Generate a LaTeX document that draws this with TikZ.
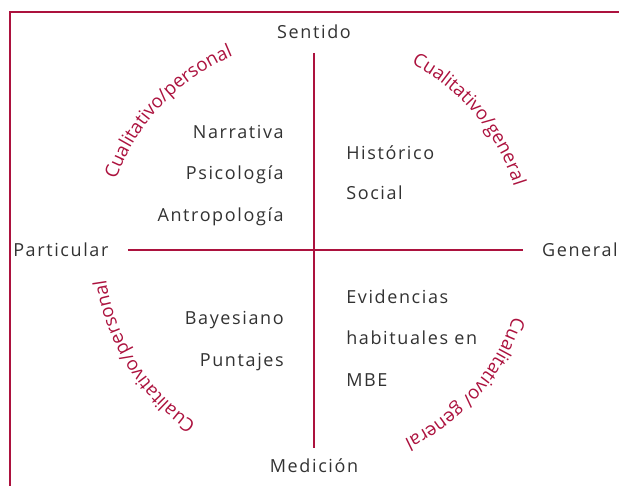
\documentclass[tikz,border=0pt]{standalone}
\usepackage{fontspec}
\setmainfont{Open Sans}
\newfontfamily\spacedfont[LetterSpace=9]{Open Sans}
\newfontfamily\curvefont{Open Sans}
\usetikzlibrary{positioning, decorations.text}
\definecolor{axisred}{RGB}{172, 18, 62}
\definecolor{termgray}{RGB}{50, 50, 50}

\begin{document}
\begin{tikzpicture}[
    x=0.75pt, y=0.75pt,
    axis/.style={draw=axisred, line width=1.6pt},
    term/.style={text=termgray, inner sep=0pt,
                 font=\spacedfont\fontsize{13.5}{15}\selectfont,
                 text height=9.6pt, text depth=0pt},
    leftterm/.style={term, anchor=east},
    rightterm/.style={term, anchor=west},
    arctext/.style={decorate, decoration={text along path, text align=center,
                 text color=axisred,
                 text={|\curvefont\fontsize{14}{16}\selectfont|#1}}}
]
\useasboundingbox (-314,-236) rectangle (305,250);

% frame
\draw[axis] (-304,-236) -- (-304,238) -- (305,238);

% axes
\coordinate (axistop) at (0,197);
\coordinate (axisbottom) at (0,-198);
\coordinate (axisleft) at (-186,0);
\coordinate (axisright) at (209,0);
\draw[axis] (axistop) -- (axisbottom);
\draw[axis] (axisleft) -- (axisright);

\node[term] (sentido) at (0,218) {Sentido};
\node[term] (medicion) at (0,-216) {Medición};
\node[rightterm] (particular) at (-301,0) {Particular};
\node[leftterm] (general) at (304,0) {General};

% quadrants
\node[leftterm] (narrativa) at (-30,118) {Narrativa};
\node[leftterm] (psicologia) at (-30,77) {Psicología};
\node[leftterm] (antropologia) at (-30,35) {Antropología};
\node[rightterm] (historico) at (32,97) {Histórico};
\node[rightterm] (social) at (32,57) {Social};
\node[leftterm] (bayesiano) at (-30,-68) {Bayesiano};
\node[leftterm] (puntajes) at (-30,-110) {Puntajes};
\node[rightterm] (evidencias) at (32,-47) {Evidencias};
\node[rightterm] (habituales) at (32,-88) {habituales en};
\node[rightterm] (mbe) at (32,-130) {MBE};

% curved labels
\path[arctext=Cualitativo/personal] (166.5:210) arc[start angle=166.5, end angle=106.5, radius=210];
\path[arctext=Cualitativo/general] (70:210) arc[start angle=70, end angle=10, radius=210];
\path[arctext=Cualitativo/personal] (242:210) arc[start angle=242, end angle=182, radius=210];
\path[arctext=Cualitativo/ general] (348.5:210) arc[start angle=348.5, end angle=288.5, radius=210];

\end{tikzpicture}
\end{document}
